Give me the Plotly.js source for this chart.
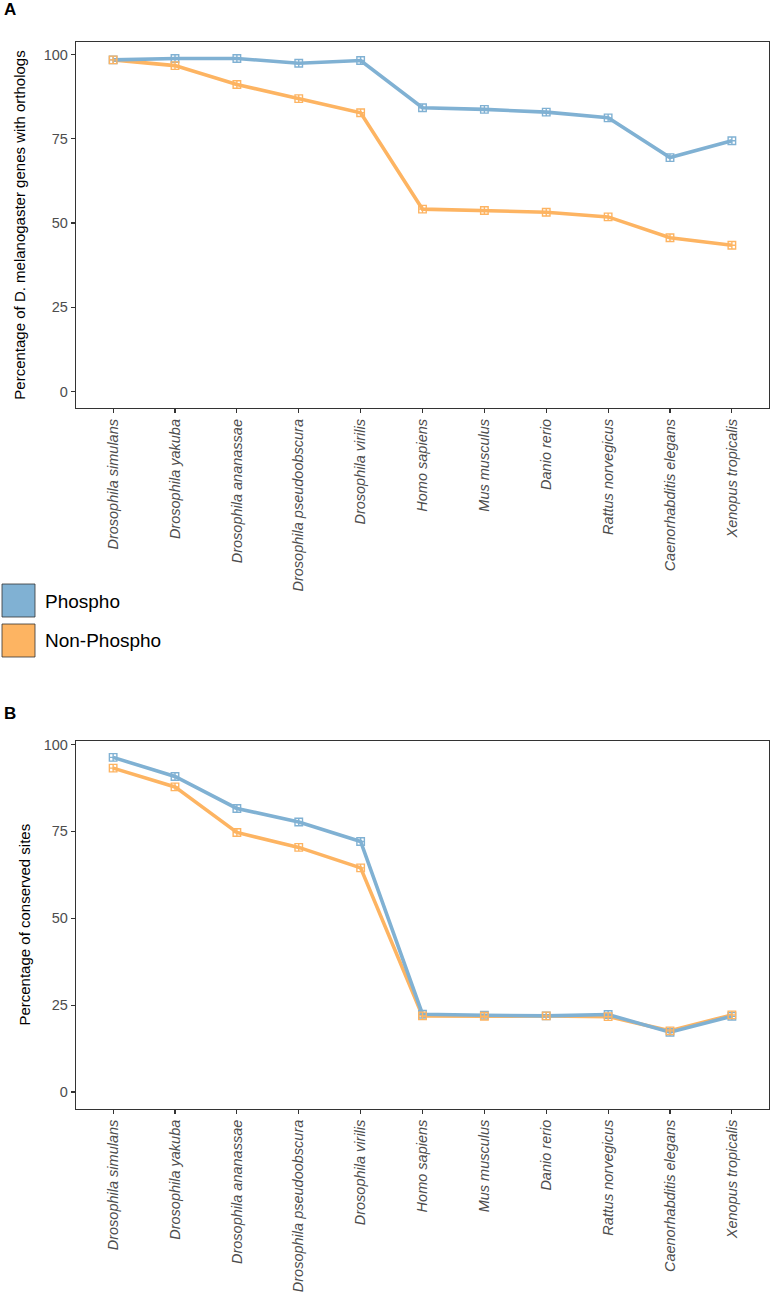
<!DOCTYPE html>
<html>
<head>
<meta charset="utf-8">
<script src="https://cdn.plot.ly/plotly-3.0.1.min.js"></script>
<style>html,body{margin:0;padding:0;background:#fff;}#chart{width:771px;height:1298px;}</style>
</head>
<body>
<div id="chart"></div>
<script>
const species = ["Drosophila simulans","Drosophila yakuba","Drosophila ananassae","Drosophila pseudoobscura","Drosophila virilis","Homo sapiens","Mus musculus","Danio rerio","Rattus norvegicus","Caenorhabditis elegans","Xenopus tropicalis"];
const seriesNames = ["Phospho","Non-Phospho"];
const phosphoA = [98.4, 98.8, 98.8, 97.4, 98.2, 84.2, 83.7, 82.9, 81.2, 69.4, 74.4];
const nonPhosphoA = [98.4, 96.7, 91.1, 86.9, 82.7, 54.1, 53.7, 53.2, 51.8, 45.6, 43.4];
const phosphoB = [96.3, 90.8, 81.6, 77.7, 72.1, 22.4, 22.1, 21.9, 22.3, 17.2, 21.8];
const nonPhosphoB = [93.2, 87.8, 74.7, 70.4, 64.5, 21.9, 21.8, 21.9, 21.7, 17.6, 22.2];
const yTicks = [0, 25, 50, 75, 100];
const titleA = "Percentage of D. melanogaster genes with orthologs";
const titleB = "Percentage of conserved sites";

const cP = "#80B1D3", cN = "#FDB462";
const W = 771, H = 1298;

function lineTrace(y, c, xa, ya){
  return {x: species, y: y, xaxis: xa, yaxis: ya, type: "scatter", mode: "lines",
          line: {color: c, width: 3.6}, showlegend: false, hoverinfo: "skip"};
}
function markTrace(y, c, xa, ya){
  return {x: species, y: y, xaxis: xa, yaxis: ya, type: "scatter", mode: "markers",
          marker: {symbol: "square-cross-open", size: 7.5, color: c, line: {color: c, width: 1.4}},
          showlegend: false};
}
const data = [
  lineTrace(nonPhosphoA, cN, "x", "y"), lineTrace(phosphoA, cP, "x", "y"),
  markTrace(phosphoA, cP, "x", "y"), markTrace(nonPhosphoA, cN, "x", "y"),
  lineTrace(nonPhosphoB, cN, "x2", "y2"), lineTrace(phosphoB, cP, "x2", "y2"),
  markTrace(phosphoB, cP, "x2", "y2"), markTrace(nonPhosphoB, cN, "x2", "y2")
];

const font = "Liberation Sans, Arial, sans-serif";
function xax(anchor){
  return {domain: [76/W, 769/W], anchor: anchor, type: "category", range: [-0.6, 10.6],
    showline: true, mirror: true, linecolor: "#333", linewidth: 1.2,
    ticks: "outside", ticklen: 4, tickcolor: "#333", tickwidth: 1.2,
    showgrid: false, zeroline: false, tickangle: -90, automargin: false,
    tickfont: {family: font, size: 14.5, color: "#4d4d4d", style: "italic"}};
}
function yax(anchor, dom, range, title, so){
  return {domain: dom, anchor: anchor, range: range, tickvals: yTicks,
    showline: true, mirror: true, linecolor: "#333", linewidth: 1.2,
    ticks: "outside", ticklen: 4, tickcolor: "#333", tickwidth: 1.2,
    showgrid: false, zeroline: false, automargin: false,
    tickfont: {family: font, size: 14.5, color: "#4d4d4d"},
    title: {text: title, font: {family: font, size: 15, color: "#000"}, standoff: so}};
}

const layout = {
  width: W, height: H, margin: {l: 0, r: 0, t: 0, b: 0},
  paper_bgcolor: "#fff", plot_bgcolor: "#fff", showlegend: false,
  font: {family: font},
  xaxis: xax("y"),
  yaxis: yax("x", [1-408/H, 1-42/H], [-4.9, 103.7], titleA, 14),
  xaxis2: xax("y2"),
  yaxis2: yax("x2", [1-1108.7/H, 1-740.7/H], [-4.8, 101.1], titleB, 9),
  shapes: [
    {type: "rect", xref: "paper", yref: "paper", x0: 2/W, x1: 35/W, y0: 1-617/H, y1: 1-584/H,
     fillcolor: cP, line: {color: "#333", width: 0.8}},
    {type: "rect", xref: "paper", yref: "paper", x0: 2/W, x1: 35/W, y0: 1-657/H, y1: 1-624/H,
     fillcolor: cN, line: {color: "#333", width: 0.8}}
  ],
  annotations: [
    {text: "<b>A</b>", xref: "paper", yref: "paper", x: 2/W, y: 1-10/H, xanchor: "left", yanchor: "middle",
     showarrow: false, font: {family: font, size: 17, color: "#000"}},
    {text: "<b>B</b>", xref: "paper", yref: "paper", x: 2/W, y: 1-713/H, xanchor: "left", yanchor: "middle",
     showarrow: false, font: {family: font, size: 17, color: "#000"}},
    {text: seriesNames[0], xref: "paper", yref: "paper", x: 43/W, y: 1-601/H, xanchor: "left", yanchor: "middle",
     showarrow: false, font: {family: font, size: 19, color: "#000"}},
    {text: seriesNames[1], xref: "paper", yref: "paper", x: 43/W, y: 1-640/H, xanchor: "left", yanchor: "middle",
     showarrow: false, font: {family: font, size: 19, color: "#000"}}
  ]
};

Plotly.newPlot("chart", data, layout, {staticPlot: true, displayModeBar: false});
</script>
</body>
</html>
